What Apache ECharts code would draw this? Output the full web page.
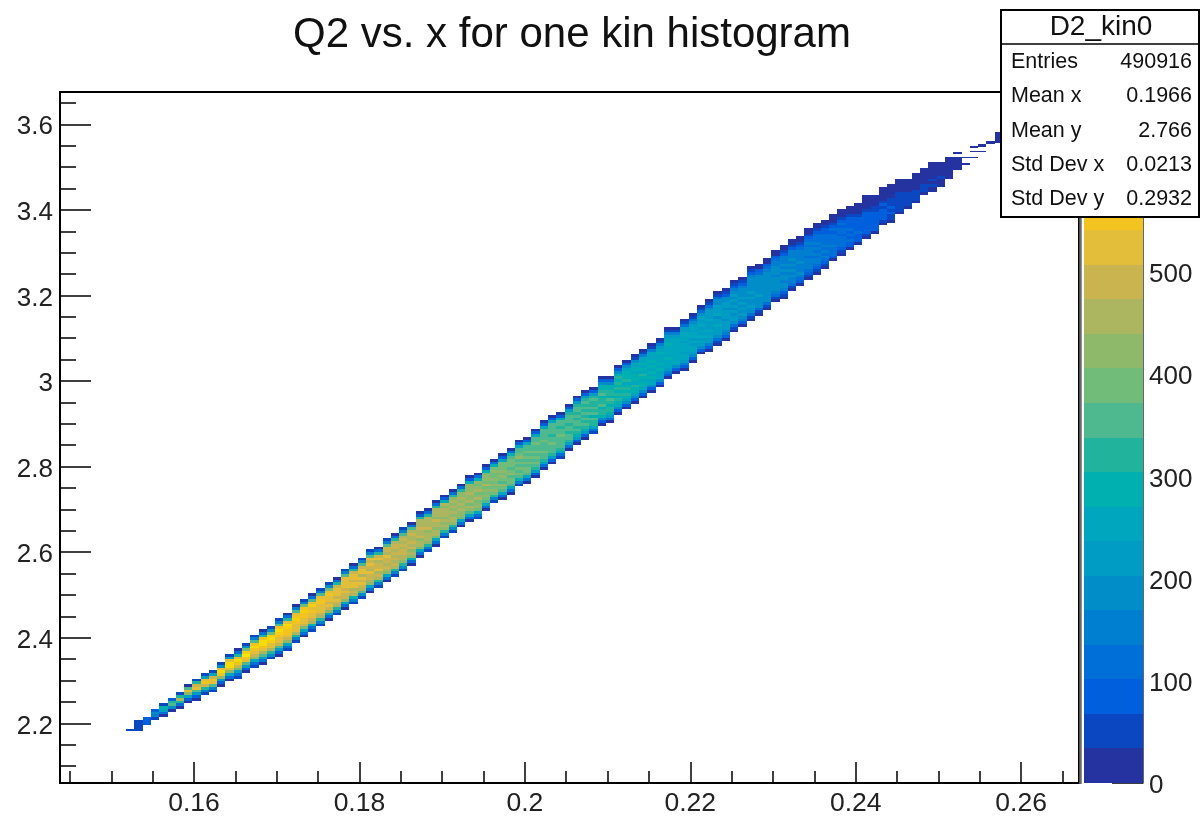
<!DOCTYPE html>
<html><head><meta charset="utf-8">
<style>html,body{margin:0;padding:0;background:#fff}#c{width:1200px;height:817px}</style>
<script src="https://cdn.jsdelivr.net/npm/echarts@6/dist/echarts.min.js"></script>
</head><body><div id="c"></div>
<script>
const xMin = 0.1438, xMax = 0.267, binX = 0.001;
const yMin = 2.0607, yMax = 3.6754, binY = 0.00642, sliverY = 0.00321;
const zMax = 676;
const levelColors = ['#2433A0','#0B47C0','#005FDC','#0070D8','#007FD0','#008DC8','#009CC4','#00A6BE','#00AFB0','#22B39C','#4EB98E','#72BC7A','#8FB96A','#ACB560','#C9B44F','#E2BE3A','#F3C41F','#F6CF10','#FBDC00','#FFE800'];
const statNames = ['Entries','Mean x','Mean y','Std Dev x','Std Dev y'];
const statValues = ['490916','0.1966','2.766','0.0213','0.2932'];
const firstCol = 9;
const firstRow = [19,21,23,24,26,27,29,30,32,33,35,37,38,40,42,43,45,46,48,51,53,55,57,59,61,63,65,67,69,71,73,75,77,79,82,84,86,89,91,93,95,96,99,102,103,105,108,109,111,114,116,118,121,123,125,127,130,131,134,136,138,140,142,144,147,149,150,153,156,157,159,161,164,166,168,170,172,175,176,179,181,183,185,187,190,192,194,196,198,200,203,204,207,209,211,214,215,217,220,223];
const colCounts = [
[50,55,50,45],[70,100,80],[40,150,200,80],[30,130,270,300,60],[30,170,370,330,70],[30,130,320,450,320,40],
[20,90,240,420,510,360,30],[30,100,210,370,530,500,330,50],[50,150,330,490,560,510,230,60],[40,160,340,520,570,500,250,60],
[20,90,230,410,570,620,520,200,60],[30,110,240,430,530,640,630,530,220,40],[50,120,230,390,500,570,630,540,310,120,30],
[30,100,220,370,510,570,650,590,380,170,50],[40,110,240,420,490,530,570,640,560,340,150,40],[30,110,210,340,470,530,560,610,620,560,330,120,30],
[60,170,310,460,510,540,580,620,580,400,190,50],[30,100,230,370,480,510,540,570,590,620,560,370,150,40],[40,130,270,420,500,520,550,560,600,610,540,330,120,30],
[50,150,310,450,510,520,540,570,590,560,530,360,140,30],[30,110,250,400,490,510,540,550,570,590,550,380,160,40],[40,130,290,440,500,510,530,560,540,580,540,340,120,30],
[50,160,310,460,490,520,540,520,560,550,520,350,140,40],[30,120,270,430,500,510,500,540,530,560,530,390,170,40],[40,150,320,450,480,520,490,530,520,540,500,320,110,30],
[30,110,260,410,490,500,520,480,530,510,540,510,370,150,40],[40,140,300,440,490,470,510,520,500,530,520,490,330,120,30],[50,170,340,470,480,510,490,520,470,510,530,500,350,140,40],
[30,110,260,410,470,500,480,510,460,500,520,490,510,370,150,40],[40,150,310,440,480,460,510,490,500,470,510,480,330,120,30],[30,120,270,420,470,490,450,500,480,510,470,500,480,360,140,40],
[40,160,320,440,480,450,490,470,500,460,490,500,470,320,110,30],[50,170,330,430,470,460,480,490,440,500,470,490,460,340,150,40],[30,130,280,420,460,430,480,450,490,470,440,480,470,350,130,30],
[30,110,250,390,450,470,430,480,460,440,490,450,470,460,310,100,30],[40,150,310,430,460,440,470,430,480,450,470,460,450,330,130,30],[30,120,260,400,440,470,420,460,440,480,430,460,470,440,320,120,30],
[40,160,320,420,450,410,470,430,460,440,470,430,440,300,100,30],[50,170,310,410,440,460,420,450,430,470,420,450,430,330,130,30],[30,130,270,390,430,410,450,420,460,430,440,420,430,310,110,30],
[30,110,240,370,420,440,400,450,410,430,460,410,430,420,290,100,30],[40,130,270,380,410,430,390,440,420,400,450,420,400,410,300,110,30],[30,120,260,370,400,420,380,430,400,440,390,420,410,400,280,90,20],
[40,160,310,390,410,380,430,390,420,400,380,420,400,290,110,30],[30,110,250,360,390,410,370,400,420,380,410,390,400,380,270,100,30],[30,120,260,360,380,400,370,410,390,370,400,380,390,370,280,110,30],
[40,140,280,370,380,360,400,370,390,360,410,380,360,370,260,90,20],[30,110,240,340,380,390,350,400,370,380,350,390,370,360,270,100,30],[30,100,220,320,360,380,350,390,360,380,350,370,390,360,350,260,90,20],
[30,110,240,330,360,350,380,340,370,360,390,340,370,350,340,250,100,30],[20,100,220,320,350,370,340,380,350,360,330,370,350,360,340,240,80,20],[40,130,260,330,350,340,370,350,380,340,360,330,370,340,240,90,30],
[30,110,240,320,340,360,330,350,370,320,360,340,350,330,230,80,20],[30,100,220,300,330,350,320,360,340,310,370,330,340,350,320,220,80,20],[20,90,210,300,330,340,310,350,330,360,320,340,310,340,310,210,70,20],
[40,120,240,310,320,340,300,350,320,340,310,330,340,310,220,80,20],[20,90,200,290,320,330,300,340,310,330,290,340,320,300,300,200,70,20],[30,110,230,290,310,330,300,320,340,290,320,310,300,290,200,80,20],
[20,90,190,270,300,310,290,320,300,330,280,310,290,310,280,190,70,20],[30,90,190,270,290,310,280,320,290,270,310,290,300,280,270,180,70,20],[20,80,180,260,290,280,310,270,300,280,290,270,300,270,260,170,60,20],
[30,90,190,260,280,300,260,290,310,270,280,260,290,270,250,160,60,20],[20,80,170,250,270,290,260,280,250,290,260,280,250,270,240,160,60,20],[20,90,180,240,270,250,280,260,290,240,270,250,280,250,230,150,60,20],
[20,70,160,230,260,270,240,280,250,270,240,260,280,240,250,230,140,50,20],[30,100,190,240,260,240,270,250,260,240,270,240,250,220,150,60,20],[20,70,150,220,250,260,230,270,240,260,230,250,240,260,230,210,130,50,20],
[20,80,170,230,240,260,230,250,220,260,240,230,250,230,200,130,50,20],[30,90,170,220,240,220,250,230,240,220,250,230,220,240,200,120,50,20],[20,70,150,210,230,240,220,250,220,230,210,240,230,210,220,190,120,50,20],
[20,60,130,190,220,230,210,240,220,230,200,240,210,220,230,200,180,110,40,20],[20,70,140,200,220,210,230,200,230,210,220,200,230,210,200,170,100,40,20],[20,60,130,190,210,220,200,220,190,230,200,210,190,210,190,160,100,40,20],
[30,80,150,190,210,190,220,200,210,190,220,190,200,180,150,90,40,20],[20,50,110,170,190,210,190,200,220,180,210,190,200,180,190,170,140,80,40,20],[20,60,120,170,190,200,180,210,180,200,170,200,180,190,170,130,80,30,20],
[20,60,120,170,180,200,170,190,170,200,180,170,190,170,160,120,70,30,20],[20,50,110,160,180,170,190,170,180,160,190,170,180,160,150,110,70,30,20],[20,50,100,150,170,180,160,180,170,150,180,160,170,150,160,140,100,60,30,20],
[20,60,110,150,160,180,150,170,150,170,140,170,150,160,140,100,60,30,20],[30,70,120,150,170,150,160,140,170,150,160,140,150,130,90,60,30,20],[20,50,100,130,150,160,140,160,130,150,140,150,130,140,120,80,50,20,20],
[20,50,90,130,140,150,130,150,120,140,130,140,120,130,110,70,40,20,20],[20,60,100,130,140,120,150,130,140,110,130,120,130,100,70,40,20,20],[30,70,110,130,120,140,110,130,120,130,100,120,100,60,30,20,20],
[20,60,100,110,130,110,120,100,120,110,100,110,90,60,30,20,20],[30,70,100,110,100,120,90,110,90,100,90,70,40,20,20,20],[30,70,90,100,110,90,100,80,90,80,60,30,20,20,20],
[20,60,80,90,100,80,90,70,90,70,50,30,20,20,20,20],[30,70,80,90,70,90,70,80,60,40,20,20,20,20],[20,50,70,80,70,80,60,70,50,30,20,20,20,20],
[20,50,60,70,60,70,50,60,40,20,20,20,20,20],[30,50,60,60,50,60,40,40,20,20,20,20,20],[30,50,50,60,40,50,30,20,20,20,20],
[20,40,50,40,50,30,20,20,20,20,20],[30,40,40,50,30,20,20,20,20,20],[20,30,40,30,40,20,20,20,20,20,20],
[20,30,30,40,20,20,20,20,20],[20,20,30,20,20,20,20,20],[20,20,20,20,20]
];
const sliverCol = [8,108,109,109,110,110,110,110,111,111,111,112,112,113,113,113,113,113,113,113,113];
const sliverRow = [38,458,455,450,455,459,462,463,459,463,464,465,466,466,467,468,469,470,471,472,473];
const sliverCount = [40,20,20,20,20,20,20,20,20,20,20,20,20,30,30,30,30,30,30,30,30];

const levelWidth = zMax / levelColors.length;
const colorOf = c => levelColors[Math.min(levelColors.length - 1, Math.floor(c / levelWidth))];

const cells = [];
colCounts.forEach((col, i) => col.forEach((c, j) => {
  cells.push([xMin + (firstCol + i) * binX, yMin + (firstRow[i] + j) * binY, c, binY]);
}));
sliverCol.forEach((k, i) => cells.push([xMin + k * binX, yMin + sliverRow[i] * sliverY, sliverCount[i], sliverY]));

const bandData = levelColors.map((_, i) => [i * levelWidth, (i + 1) * levelWidth, i]);

const font = 'Liberation Sans';
const black = '#000';
const statTop = 62, statStep = 34.3;
const statGraphics = [
  {type:'line', z:50, shape:{x1:1080.5,y1:92,x2:1080.5,y2:784}, style:{stroke:'#6a6a6a',lineWidth:2.5}},
  {type:'rect', z:100, shape:{x:1001,y:10,width:198,height:207}, style:{fill:'#fff',stroke:black,lineWidth:2}},
  {type:'line', z:101, shape:{x1:1001,y1:44,x2:1200,y2:44}, style:{stroke:black,lineWidth:1.5}},
  {type:'text', z:102, x:1101, y:27, style:{text:'D2_kin0',font:'28px "'+font+'"',fill:'#111',textAlign:'center',textVerticalAlign:'middle'}}
];
statNames.forEach((n, i) => {
  statGraphics.push({type:'text', z:102, x:1011, y:statTop + i*statStep, style:{text:n,font:'21.5px "'+font+'"',fill:'#111',textAlign:'left',textVerticalAlign:'middle'}});
  statGraphics.push({type:'text', z:102, x:1192, y:statTop + i*statStep, style:{text:statValues[i],font:'21.5px "'+font+'"',fill:'#111',textAlign:'right',textVerticalAlign:'middle'}});
});

const chart = echarts.init(document.getElementById('c'), null, {renderer:'canvas'});
chart.setOption({
  animation:false,
  backgroundColor:'#fff',
  title:{text:'Q2 vs. x for one kin histogram',left:567,top:9,textAlign:'center',
    textStyle:{fontFamily:font,fontSize:42,fontWeight:'normal',color:'#111'}},
  grid:[
    {left:60,top:92,width:1019,height:691,show:true,borderColor:black,borderWidth:2,backgroundColor:'#fff',outerBoundsMode:'none'},
    {left:1084,top:92,width:59,height:691,show:false,outerBoundsMode:'none'}
  ],
  xAxis:[
    {gridIndex:0,type:'value',min:xMin,max:xMax,splitNumber:6,
      axisLine:{show:true,onZero:false,lineStyle:{color:black,width:2}},
      axisTick:{show:true,inside:true,length:21,lineStyle:{color:black,width:1.5}},
      minorTick:{show:true,splitNumber:4,length:12,lineStyle:{color:black,width:1.5}},
      splitLine:{show:false},minorSplitLine:{show:false},
      axisLabel:{showMinLabel:false,showMaxLabel:false,fontFamily:font,fontSize:26.5,color:'#222',margin:7}},
    {gridIndex:1,type:'value',min:0,max:1,show:false}
  ],
  yAxis:[
    {gridIndex:0,type:'value',min:yMin,max:yMax,splitNumber:8,
      axisLine:{show:true,onZero:false,lineStyle:{color:black,width:2}},
      axisTick:{show:true,inside:true,length:31,lineStyle:{color:black,width:1.5}},
      minorTick:{show:true,splitNumber:4,length:16,lineStyle:{color:black,width:1.5}},
      splitLine:{show:false},minorSplitLine:{show:false},
      axisLabel:{showMinLabel:false,showMaxLabel:false,fontFamily:font,fontSize:26,color:'#222',margin:7,verticalAlign:'top',lineHeight:6}},
    {gridIndex:1,type:'value',position:'right',min:0,max:zMax,interval:100,
      axisLine:{show:true,onZero:false,lineStyle:{color:'#333',width:1.5}},
      axisTick:{show:true,inside:true,length:31,lineStyle:{color:black,width:1.5}},
      splitLine:{show:false},
      axisLabel:{showMaxLabel:false,fontFamily:font,fontSize:26,color:'#222',margin:6,verticalAlign:'top',lineHeight:6,
        formatter:v => v >= 600 ? '' : String(v)}}
  ],
  series:[
    {type:'custom',xAxisIndex:0,yAxisIndex:0,data:cells,clip:true,encode:{x:0,y:1},silent:true,z:1,
      renderItem(params, api){
        const x = api.value(0), y = api.value(1), h = api.value(3);
        const a = api.coord([x, y]), b = api.coord([x + binX, y + h]);
        const x0 = Math.round(a[0]), x1 = Math.round(b[0]), y0 = Math.round(a[1]), y1 = Math.round(b[1]);
        return {type:'rect',shape:{x:x0,y:y1,width:x1-x0,height:Math.max(1,y0-y1)},style:{fill:colorOf(api.value(2))}};
      }},
    {type:'custom',xAxisIndex:1,yAxisIndex:1,data:bandData,encode:{y:[0,1]},silent:true,z:1,
      renderItem(params, api){
        const a = api.coord([0, api.value(0)]), b = api.coord([1, api.value(1)]);
        const y0 = Math.round(a[1]), y1 = Math.round(b[1]);
        return {type:'rect',shape:{x:a[0],y:y1,width:b[0]-a[0],height:y0-y1},style:{fill:levelColors[api.value(2)]}};
      }}
  ],
  graphic:{elements:statGraphics}
});
</script></body></html>
